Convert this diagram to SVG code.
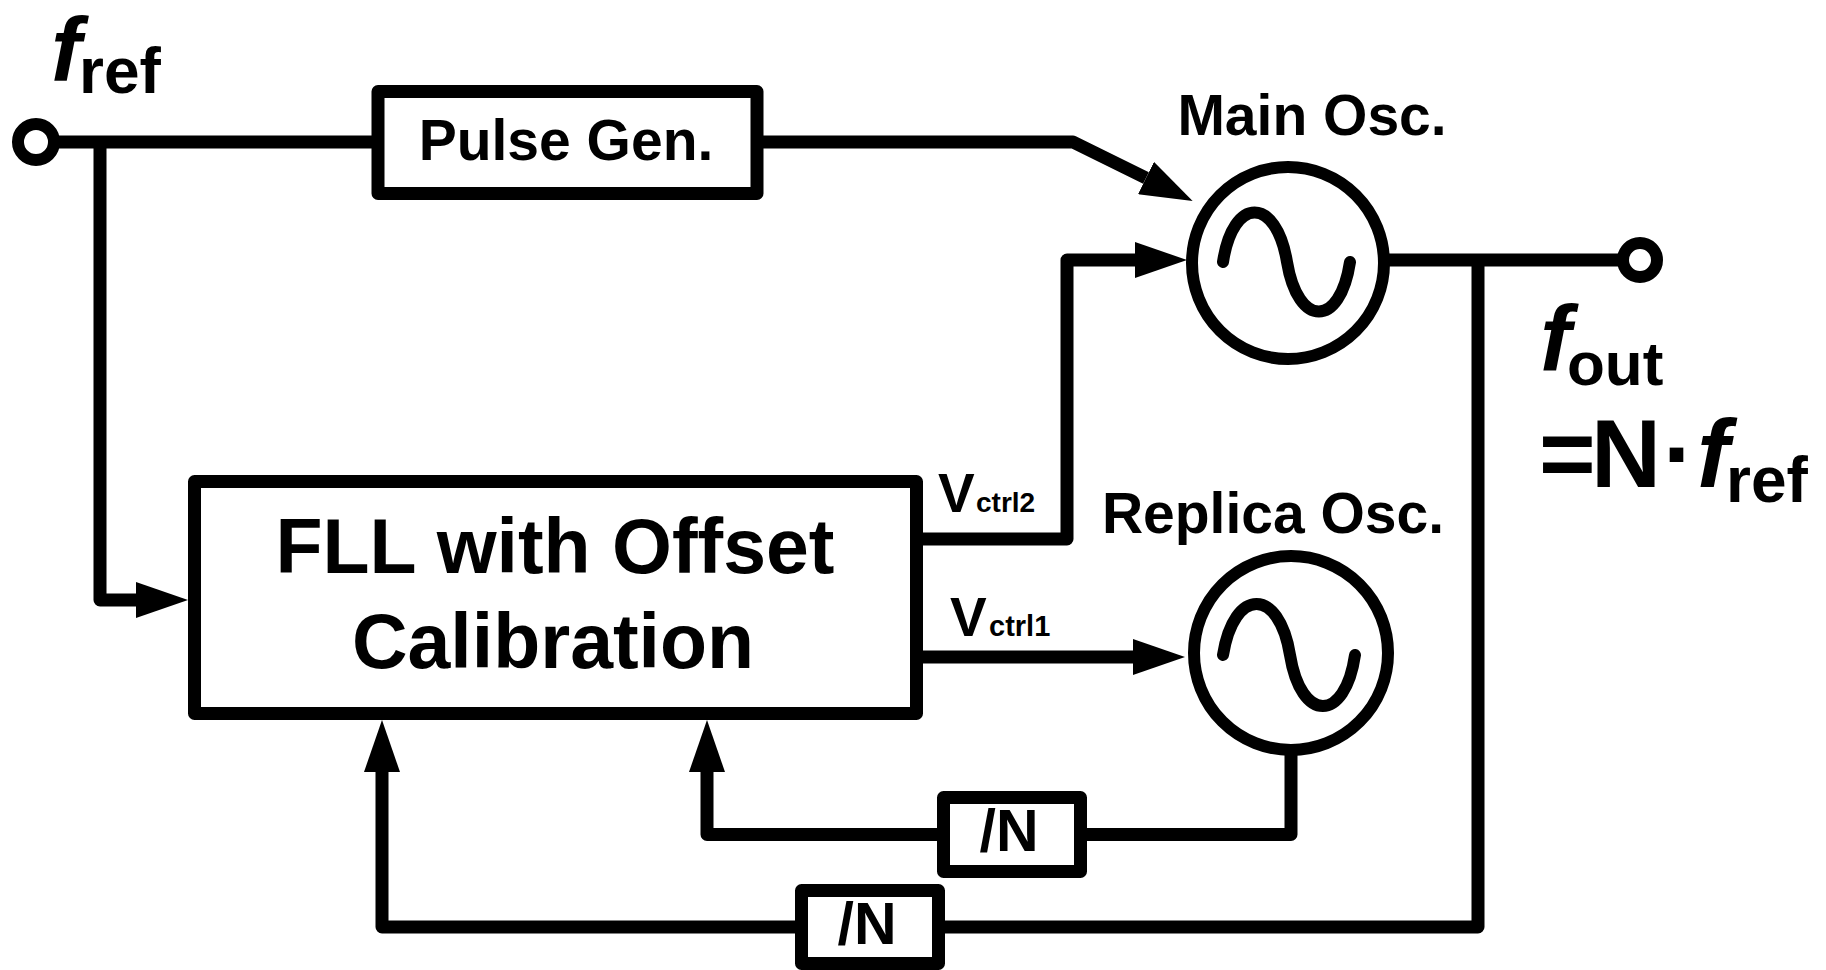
<svg xmlns="http://www.w3.org/2000/svg" width="1826" height="970" viewBox="0 0 1826 970">
<defs>
<style>
.w{fill:none;stroke:#000;stroke-width:13;stroke-linejoin:round}
.b{fill:#fff;stroke:#000;stroke-width:13;stroke-linejoin:round}
.o{fill:#fff;stroke:#000;stroke-width:12}
.s{fill:none;stroke:#000;stroke-width:12;stroke-linecap:round}
.t{font-family:"Liberation Sans",Arial,sans-serif;font-weight:bold;fill:#000}
.i{font-style:italic}
</style>
<marker id="ah" viewBox="0 0 52 36" refX="0" refY="18" markerWidth="52" markerHeight="36" orient="auto" markerUnits="userSpaceOnUse">
<path d="M0,0 L52,18 L0,36 z" fill="#000"/>
</marker>
</defs>
<rect width="1826" height="970" fill="#fff"/>
<g id="connectors">
<path class="w" d="M54,142 H378"/>
<path class="w" d="M100,142 V600 H136" marker-end="url(#ah)"/>
<path class="w" d="M757,142 H1073 L1146,178" marker-end="url(#ah)"/>
<path class="w" d="M923,539 H1067 V260 H1135" marker-end="url(#ah)"/>
<path class="w" d="M923,657 H1133" marker-end="url(#ah)"/>
<path class="w" d="M1384,260 H1623"/>
<path class="w" d="M1478,260 V927 H945"/>
<path class="w" d="M795,927 H382 V772" marker-end="url(#ah)"/>
<path class="w" d="M1291,750 V834.5 H1087"/>
<path class="w" d="M937,834.5 H707 V772" marker-end="url(#ah)"/>
</g>
<g id="fref">
<circle class="o" cx="36" cy="142" r="18"/>
<text class="t" y="81"><tspan class="i" x="51" font-size="91">f</tspan><tspan x="79" y="93" font-size="64">ref</tspan></text>
</g>
<g id="pulse-gen">
<rect class="b" x="378" y="91.5" width="379" height="102"/>
<text class="t" x="566" y="160" font-size="57" text-anchor="middle">Pulse Gen.</text>
</g>
<g id="main-osc">
<circle class="o" cx="1288" cy="263" r="96"/>
<path class="s" d="M1223,262 C1233,196 1276,196 1287,262 C1298,328 1340,328 1350,262"/>
<text class="t" x="1312" y="135" font-size="57" text-anchor="middle">Main Osc.</text>
</g>
<g id="fout">
<circle class="o" cx="1640" cy="260" r="17"/>
<text class="t" y="370"><tspan class="i" x="1540" font-size="93">f</tspan><tspan x="1567" y="385" font-size="62">out</tspan></text>
<text class="t" y="487" font-size="97"><tspan x="1539">=</tspan><tspan x="1591">N</tspan><tspan x="1663">·</tspan><tspan class="i" x="1697">f</tspan><tspan x="1726" y="502" font-size="64">ref</tspan></text>
</g>
<g id="fll">
<rect class="b" x="194.5" y="481.5" width="722" height="232"/>
<text class="t" x="555" y="573" font-size="77" text-anchor="middle">FLL with Offset</text>
<text class="t" x="553" y="668" font-size="77" text-anchor="middle">Calibration</text>
</g>
<g id="vctrl-labels">
<text class="t" y="512"><tspan x="938" font-size="55">V</tspan><tspan x="976" font-size="28">ctrl2</tspan></text>
<text class="t" y="636"><tspan x="950" font-size="55">V</tspan><tspan x="989" font-size="29">ctrl1</tspan></text>
</g>
<g id="replica-osc">
<circle class="o" cx="1291" cy="653" r="97"/>
<path class="s" d="M1223,655 C1234,587 1279,587 1290,655 C1301,723 1345,723 1355,655"/>
<text class="t" x="1273" y="533" font-size="57" text-anchor="middle">Replica Osc.</text>
</g>
<g id="div-replica">
<rect class="b" x="943.5" y="797.5" width="137" height="74"/>
<text class="t" x="1009" y="851" font-size="59" text-anchor="middle">/N</text>
</g>
<g id="div-main">
<rect class="b" x="801.5" y="890.5" width="137" height="73"/>
<text class="t" x="867" y="944" font-size="59" text-anchor="middle">/N</text>
</g>
</svg>
